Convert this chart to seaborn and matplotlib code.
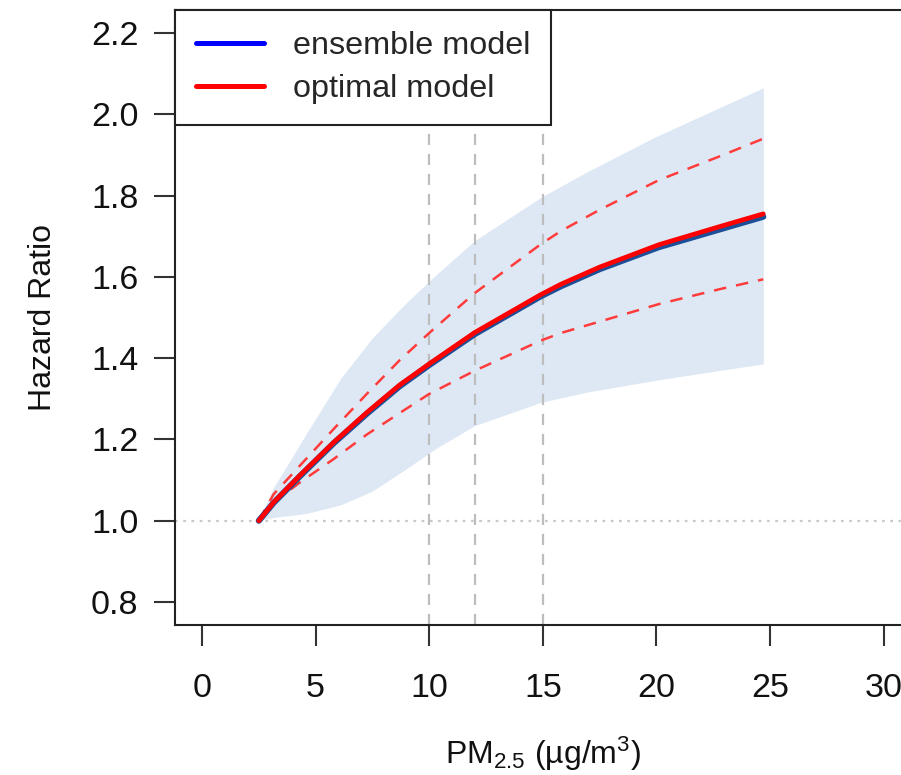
import numpy as np
import pandas as pd
import seaborn as sns
import matplotlib.pyplot as plt
from matplotlib.lines import Line2D

# values
pm = [2.5, 3.15, 4.3, 5.8, 7.25, 8.7, 10.0, 12.0, 14.9, 15.8, 17.5, 20.1, 22.8, 24.7]
hr_optimal = [1.0, 1.045, 1.111, 1.193, 1.266, 1.334, 1.386, 1.463, 1.556, 1.582,
              1.624, 1.679, 1.724, 1.755]
hr_ensemble = [1.0, 1.044, 1.109, 1.191, 1.263, 1.331, 1.383, 1.459, 1.552, 1.577,
               1.619, 1.673, 1.717, 1.748]
opt_upper = [1.0, 1.065, 1.135, 1.226, 1.312, 1.395, 1.462, 1.56, 1.68, 1.713,
             1.765, 1.838, 1.897, 1.94]
opt_lower = [1.0, 1.045, 1.094, 1.152, 1.212, 1.265, 1.312, 1.369, 1.443, 1.462,
             1.49, 1.533, 1.57, 1.594]

pm_band = [2.5, 3.15, 3.9, 4.6, 6.1, 7.5, 9.0, 10.3, 12.0, 14.9, 16.9, 19.9, 22.8, 24.7]
band_upper = [1.0, 1.082, 1.15, 1.215, 1.35, 1.45, 1.537, 1.605, 1.689, 1.795,
              1.857, 1.943, 2.017, 2.065]
band_lower = [1.0, 1.008, 1.013, 1.018, 1.039, 1.073, 1.128, 1.178, 1.234, 1.291,
              1.316, 1.345, 1.37, 1.386]

who_limits = [10, 12, 15]
x_ticks = [0, 5, 10, 15, 20, 25, 30]
y_ticks = [0.8, 1.0, 1.2, 1.4, 1.6, 1.8, 2.0, 2.2]
legend_labels = ['ensemble model', 'optimal model']

df = pd.DataFrame({'pm': pm, 'ens': hr_ensemble, 'opt': hr_optimal,
                   'up': opt_upper, 'lo': opt_lower})

sns.set_theme(style='ticks')
plt.rcParams['font.family'] = ['Liberation Sans', 'DejaVu Sans']
plt.rcParams['mathtext.fontset'] = 'custom'
plt.rcParams['mathtext.rm'] = 'Liberation Sans'
plt.rcParams['mathtext.default'] = 'regular'

fig = plt.figure(figsize=(9.01, 7.75), dpi=100)
ax = fig.add_axes([0.1939, 0.1938, 0.8172, 0.793])

ax.fill_between(pm_band, band_lower, band_upper, color='#dde8f4', lw=0, zorder=1)

for v in who_limits:
    ax.axvline(v, color='#bdbdbd', lw=1.6, dashes=(5, 4), zorder=2)
ax.axhline(1.0, color='#c8c8c8', lw=1.6, dashes=(1.2, 2.5), zorder=2)

sns.lineplot(data=df, x='pm', y='up', ax=ax, color='#ff3b3b', lw=1.8, zorder=3)
sns.lineplot(data=df, x='pm', y='lo', ax=ax, color='#ff3b3b', lw=1.8, zorder=3)
for ln in ax.lines[-2:]:
    ln.set_dashes((5, 4))
sns.lineplot(data=df, x='pm', y='ens', ax=ax, color='#1d4f99', lw=4.4, zorder=4)
sns.lineplot(data=df, x='pm', y='opt', ax=ax, color='#ff0000', lw=3.4, zorder=5)

ax.set_xlim(-1.2, 31.2)
ax.set_ylim(0.744, 2.256)
ax.set_xticks(x_ticks)
ax.set_yticks(y_ticks)
ax.set_yticklabels([f'{t:.1f}' for t in y_ticks])

for s in ax.spines.values():
    s.set_color('#222222')
    s.set_linewidth(1.5)
ax.tick_params(axis='both', length=15, width=1.5, color='#333333',
               labelsize=24.5, labelcolor='#111111')
ax.tick_params(axis='x', pad=20)
ax.tick_params(axis='y', pad=11)

ax.set_xlabel('PM$_{2.5}$ (µg/m$^{3}$)', fontsize=23, labelpad=22, color='#111111')
ax.set_ylabel('Hazard Ratio', fontsize=23, labelpad=24, color='#111111')

handles = [Line2D([], [], color='#0000ff', lw=3.6),
           Line2D([], [], color='#ff0000', lw=3.6)]
leg = ax.legend(handles, legend_labels, loc='upper left', bbox_to_anchor=(0, 1),
                borderaxespad=0, fancybox=False, framealpha=1, edgecolor='#222222',
                fontsize=23.3, handlelength=2.1, handletextpad=0.9,
                labelspacing=0.4, borderpad=0.65)
leg.get_frame().set_linewidth(1.5)
leg.set_zorder(10)

fig.savefig('out.png', dpi=100)
